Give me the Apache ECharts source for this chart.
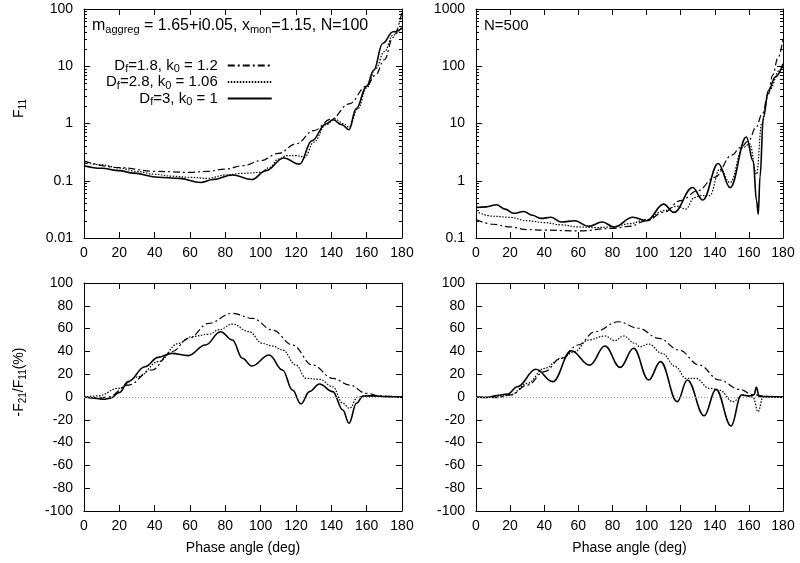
<!DOCTYPE html>
<html><head><meta charset="utf-8">
<script src="https://cdn.jsdelivr.net/npm/echarts@6/dist/echarts.min.js"></script>
<style>html,body{margin:0;padding:0;background:#fff}#c{width:800px;height:563px}</style>
</head><body><div id="c"></div>
<script>
// ---------- data (phase angle in deg, value) ----------
const xTicks = [0, 20, 40, 60, 80, 100, 120, 140, 160, 180];
const legendNames = ['Df=1.8, k0 = 1.2', 'Df=2.8, k0 = 1.06', 'Df=3, k0 = 1'];

// top-left: F11, N=100
const tlDashDot = [[0,0.22],[20,0.17],[40,0.146],[60,0.14],[70,0.146],[80,0.16],[90,0.183],[100,0.224],[110,0.30],[120,0.44],[130,0.75],[140,1.2],[150,2.2],[160,4.5],[165,7],[170,13],[175,32],[180,92]];
const tlDotted = [[0,0.21],[10,0.19],[20,0.167],[30,0.145],[40,0.13],[50,0.12],[60,0.115],[70,0.11],[80,0.126],[90,0.135],[100,0.14],[105,0.17],[110,0.24],[115,0.275],[120,0.275],[125,0.26],[130,0.47],[137,0.95],[142,1.2],[147,0.99],[150,0.86],[155,1.8],[160,4.2],[165,9],[170,18],[175,35],[180,49]];
const tlSolid = [[0,0.183],[10,0.165],[20,0.15],[28,0.136],[42,0.115],[54,0.11],[66,0.093],[73,0.105],[84,0.126],[95,0.105],[103,0.15],[113,0.25],[122,0.195],[129,0.5],[137,0.99],[141,1.16],[146,0.95],[150,0.78],[154,1.8],[160,4.5],[164,8.5],[169,25],[175,40],[180,46]];

// top-right: F11, N=500
const trDashDot = [[0,0.21],[10,0.174],[20,0.156],[30,0.14],[40,0.137],[60,0.133],[80,0.147],[90,0.16],[100,0.20],[110,0.28],[120,0.45],[130,0.67],[140,1.15],[150,2.8],[155,3.8],[160,5],[164,8.5],[168,15],[171,30],[174,70],[177,140],[180,300]];
const trDotted = [[0,0.29],[10,0.24],[20,0.23],[30,0.20],[40,0.186],[50,0.17],[60,0.156],[70,0.152],[80,0.156],[90,0.178],[100,0.21],[110,0.30],[118,0.36],[123,0.32],[128,0.51],[132,0.55],[137,0.55],[143,1.6],[149,0.93],[156.5,3.8],[160.5,4.4],[164.5,1.3],[167.5,10],[172,38],[178,85],[180,100]];
const trSolid = [[0,0.34],[6,0.35],[12,0.38],[17,0.32],[22,0.27],[28,0.29],[33,0.25],[38,0.22],[44,0.23],[50,0.19],[58,0.20],[66,0.16],[74,0.19],[81,0.156],[92,0.23],[100,0.20],[110,0.39],[116,0.28],[127,0.76],[133,0.46],[142,2.0],[149,0.76],[158.5,5.8],[162.5,2.2],[164.5,0.45],[165.5,0.26],[166.5,1.15],[168.5,13],[171.5,38],[175.5,65],[180,110]];

// bottom-left: -F21/F11 (%), N=100
const blDashDot = [[0,0],[8,-1],[13.7,0],[25,10.5],[38.3,23.7],[49.7,39.7],[59.2,51.5],[70.6,64.6],[83.9,73.4],[95.3,69],[106.7,58.8],[118,45.6],[129.4,28],[140.8,16.4],[150.3,10.5],[159.8,3.2],[167.4,0.9],[180,0]];
const blDotted = [[0,0],[8,1],[19.4,7.6],[30.8,17.8],[42.1,31],[53.5,47],[61,53],[70.6,55],[76.3,58.8],[84,64],[93.4,57.3],[101,47],[106.7,44.7],[112.4,41.2],[120,28],[125.7,16.4],[133.3,15.5],[140.8,9],[146.5,-5.5],[150.3,-9.9],[155,0],[160,0.9],[167,0.5],[180,0]];
const blSolid = [[0,0],[6,-1],[11,-2],[15,-1],[20,4],[25,13.5],[34.5,26.6],[42,34.8],[49.7,38.3],[59,36.3],[68.7,45.6],[77.3,57.3],[84,50],[89.6,34],[95,27.2],[104.8,36.8],[112.4,23.7],[118,6.1],[122.8,-6.1],[127.6,4.7],[133.3,11.4],[140.8,4.7],[146.5,-11.4],[150,-23],[154.2,-5.5],[158,0.9],[165,1],[170,0.3],[180,0]];

// bottom-right: -F21/F11 (%), N=500
const brDashDot = [[0,0],[12.4,-0.5],[20.3,1.8],[30.2,10.5],[40,22.2],[50,34],[59.8,45.6],[69.7,57.3],[83.5,66],[95.3,60.3],[107.2,51.5],[119,41.2],[130.9,28],[142.7,14.9],[154.5,6.7],[162.4,2],[170,0.5],[180,0]];
const brDotted = [[0,0],[12.4,0],[20.3,2],[30.2,12],[40,25],[50,34],[57.8,39.7],[65.7,50],[75.6,53.5],[81.5,49.4],[86.4,53.5],[93.4,47],[96,44],[101.2,46.5],[109.1,38.3],[117,26.6],[123,16.4],[128.9,16.4],[136.8,7.6],[142.7,6.1],[150.6,-4.1],[156.5,1.8],[162.4,0],[165.4,-12.9],[168.3,0],[180,0]];
const brSolid = [[0,0],[6.5,-0.5],[12.4,1.2],[18.4,2.6],[24.3,9],[35.1,24.3],[45,13.5],[55.8,40.6],[66.7,28],[75.6,44.7],[84.5,26],[92.4,42.7],[101.2,14.9],[108.2,31],[118,-4.1],[123.9,14.9],[133.8,-16.4],[140.7,6.7],[149.6,-25.4],[155.5,1.8],[160.4,0.9],[163,2],[164.4,8.5],[166,0.5],[170,0.3],[180,0]];

// ---------- styling ----------
const FONT = 'Liberation Sans, Arial, Helvetica, sans-serif';
const FS = 14;
function richSet(big, small, drop) {
  return {
    n: { fontFamily: FONT, fontSize: big, color: '#000', fontWeight: 'normal' },
    s: { fontFamily: FONT, fontSize: small, color: '#000', fontWeight: 'normal', padding: [drop, 0, 0, 0] },
    g: { width: 5 }
  };
}
const rich = richSet(14, 10, 7);
const rich15 = richSet(15, 11, 7);
const rich16 = richSet(16, 11, 8);
const styles = {
  dashdot: { color: '#000', width: 1.2, type: [7, 3, 2, 3] },
  dotted:  { color: '#000', width: 1.2, type: [1.5, 1.5] },
  solid:   { color: '#000', width: 1.6, type: 'solid' }
};

const grids = [
  { left: 84,  top: 9,   width: 318, height: 229 },
  { left: 476, top: 9,   width: 307, height: 229 },
  { left: 84,  top: 283, width: 318, height: 228 },
  { left: 476, top: 283, width: 307, height: 228 }
];

const axisLine = { show: true, onZero: false, lineStyle: { color: '#000', width: 1 } };
const tick = { show: true, inside: true, length: 6, lineStyle: { color: '#000', width: 1 } };
const labelStyle = { fontFamily: FONT, fontSize: FS, color: '#000' };
const numFmt = v => String(parseFloat(Number(v).toPrecision(6)));

const xAxes = [], yAxes = [];
grids.forEach((g, i) => {
  const bottomRow = i >= 2;
  xAxes.push({
    type: 'value', gridIndex: i, min: 0, max: 180, interval: 20, position: 'bottom',
    axisLine, axisTick: tick, splitLine: { show: false },
    axisLabel: Object.assign({ margin: 8, formatter: v => xTicks.includes(v) ? String(v) : '' }, labelStyle),
    name: bottomRow ? 'Phase angle (deg)' : '', nameLocation: 'middle', nameGap: 30,
    nameTextStyle: labelStyle
  });
  xAxes.push({
    type: 'value', gridIndex: i, min: 0, max: 180, interval: 20, position: 'top',
    axisLine, axisTick: tick, splitLine: { show: false }, axisLabel: { show: false }
  });
  const isLog = !bottomRow;
  const base = isLog
    ? { type: 'log', logBase: 10, min: i === 0 ? 0.01 : 0.1, max: i === 0 ? 100 : 1000,
        minorTick: { show: true, splitNumber: 9, length: 3, lineStyle: { color: '#000', width: 1 } } }
    : { type: 'value', min: -100, max: 100, interval: 20 };
  let name = '';
  if (i === 0) name = '{n|F}{s|11}';
  if (i === 2) name = '{n|-F}{s|21}{n|/F}{s|11}{n|(%)}';
  yAxes.push(Object.assign({}, base, {
    gridIndex: i, position: 'left', axisLine, axisTick: tick, splitLine: { show: false },
    axisLabel: Object.assign({ margin: 11, formatter: numFmt }, labelStyle),
    name, nameLocation: 'middle', nameGap: 56, nameRotate: 90,
    nameTextStyle: { rich, padding: [0, 0, 0, 30] }
  }));
  yAxes.push(Object.assign({}, base, {
    gridIndex: i, position: 'right', axisLine, axisTick: tick, splitLine: { show: false },
    axisLabel: { show: false }
  }));
});

function mk(name, data, st, gi, extra) {
  return Object.assign({
    name, type: 'line', data, xAxisIndex: gi * 2, yAxisIndex: gi * 2,
    symbol: 'none', smooth: 0.4, smoothMonotone: 'x',
    lineStyle: st, itemStyle: { color: '#000' }, animation: false
  }, extra || {});
}
const zeroLine = {
  markLine: { silent: true, symbol: 'none', label: { show: false },
    lineStyle: { color: '#999', type: [1, 2], width: 1 }, data: [{ yAxis: 0 }] }
};

const series = [
  mk(legendNames[0], tlDashDot, styles.dashdot, 0),
  mk(legendNames[1], tlDotted, styles.dotted, 0),
  mk(legendNames[2], tlSolid, styles.solid, 0),
  mk('tr1', trDashDot, styles.dashdot, 1),
  mk('tr2', trDotted, styles.dotted, 1),
  mk('tr3', trSolid, styles.solid, 1),
  mk('bl1', blDashDot, styles.dashdot, 2, zeroLine),
  mk('bl2', blDotted, styles.dotted, 2),
  mk('bl3', blSolid, styles.solid, 2),
  mk('br1', brDashDot, styles.dashdot, 3, zeroLine),
  mk('br2', brDotted, styles.dotted, 3),
  mk('br3', brSolid, styles.solid, 3)
];

const legendRich = {
  'Df=1.8, k0 = 1.2': '{n|D}{s|f}{n|=1.8, k}{s|0}{n| = 1.2}{g|}',
  'Df=2.8, k0 = 1.06': '{n|D}{s|f}{n|=2.8, k}{s|0}{n| = 1.06}{g|}',
  'Df=3, k0 = 1': '{n|D}{s|f}{n|=3, k}{s|0}{n| = 1}{g|}'
};

const chart = echarts.init(document.getElementById('c'), null, { renderer: 'canvas' });
chart.setOption({
  animation: false,
  backgroundColor: '#fff',
  grid: grids,
  xAxis: xAxes,
  yAxis: yAxes,
  title: [
    { text: '{n|m}{s|aggreg}{n| = 1.65+i0.05, x}{s|mon}{n|=1.15, N=100}', left: 92, top: 16, padding: 0,
      textStyle: { rich: rich16, fontWeight: 'normal' } },
    { text: '{n|N=500}', left: 484, top: 18, padding: 0, textStyle: { rich: rich15, fontWeight: 'normal' } }
  ],
  legend: {
    data: legendNames, orient: 'vertical', align: 'right', left: 106, top: 58,
    itemWidth: 44, itemHeight: 12, itemGap: 0, padding: 0,
    itemStyle: { opacity: 0 },
    formatter: n => legendRich[n],
    textStyle: { rich: rich15 }
  },
  series
});
</script>
</body></html>
